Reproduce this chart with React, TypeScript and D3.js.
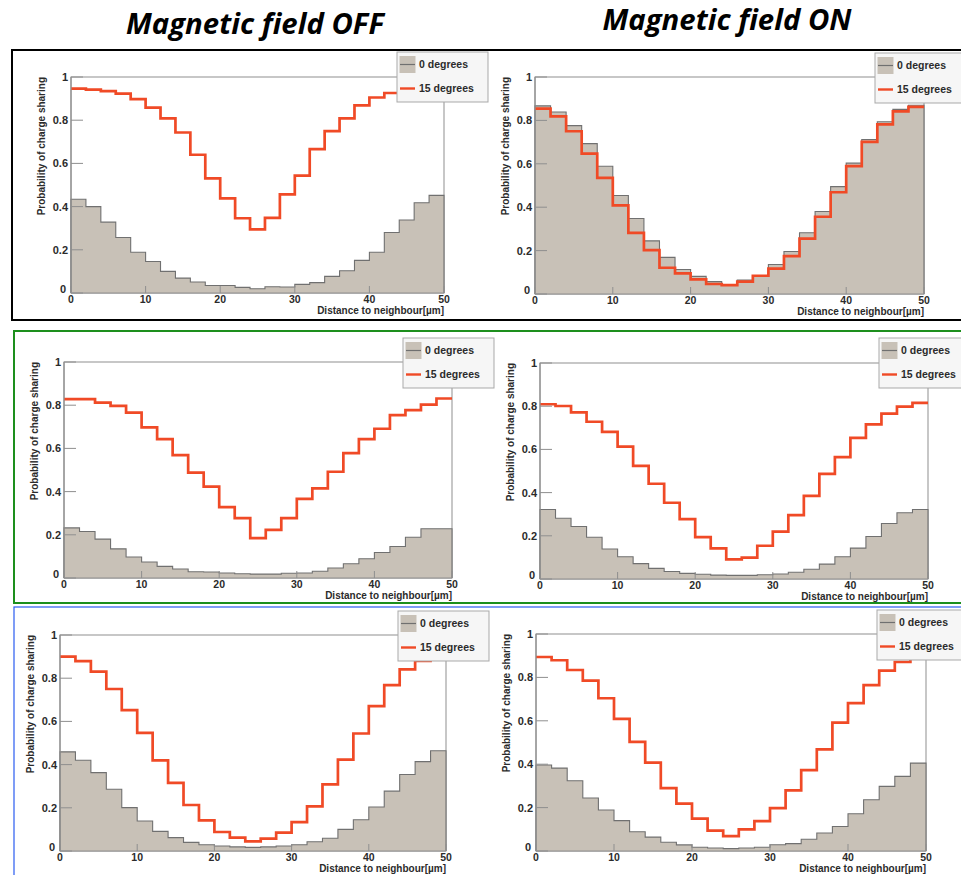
import React from "react";
import * as d3 from "d3";

// Bin edges of the distance histograms (µm) and axis tick values
const binEdges = [0, 2, 4, 6, 8, 10, 12, 14, 16, 18, 20, 22, 24, 26, 28, 30, 32, 34, 36, 38, 40, 42, 44, 46, 48, 50];
const xTicks = [0, 10, 20, 30, 40, 50];
const yTicks = [0, 0.2, 0.4, 0.6, 0.8, 1];
const legendLabels = ["0 degrees", "15 degrees"];
const columnTitles = ["Magnetic field OFF", "Magnetic field ON"];
const xTitle = "Distance to neighbour[\u00b5m]";
const yTitle = "Probability of charge sharing";

// Row 1
const r1Off0 = [0.434, 0.400, 0.328, 0.257, 0.189, 0.146, 0.100, 0.069, 0.051, 0.035, 0.035, 0.026, 0.020, 0.029, 0.028, 0.040, 0.048, 0.077, 0.103, 0.151, 0.189, 0.280, 0.338, 0.418, 0.452];
const r1Off15 = [0.946, 0.942, 0.935, 0.923, 0.898, 0.858, 0.808, 0.743, 0.640, 0.531, 0.438, 0.346, 0.295, 0.348, 0.457, 0.543, 0.666, 0.749, 0.808, 0.869, 0.905, 0.926, 0.938, 0.944, 0.948];
const r1On0 = [0.867, 0.839, 0.776, 0.693, 0.589, 0.454, 0.348, 0.245, 0.169, 0.113, 0.081, 0.057, 0.041, 0.064, 0.084, 0.136, 0.196, 0.282, 0.380, 0.495, 0.603, 0.712, 0.794, 0.851, 0.870];
const r1On15 = [0.854, 0.819, 0.750, 0.647, 0.535, 0.408, 0.282, 0.202, 0.121, 0.095, 0.067, 0.046, 0.041, 0.057, 0.084, 0.117, 0.175, 0.255, 0.356, 0.469, 0.589, 0.701, 0.782, 0.842, 0.862];

// Row 2
const r2Off0 = [0.232, 0.215, 0.180, 0.135, 0.097, 0.074, 0.054, 0.042, 0.029, 0.028, 0.023, 0.020, 0.018, 0.018, 0.022, 0.023, 0.031, 0.046, 0.066, 0.089, 0.118, 0.146, 0.189, 0.228, 0.228];
const r2Off15 = [0.828, 0.828, 0.812, 0.797, 0.766, 0.697, 0.643, 0.569, 0.488, 0.423, 0.328, 0.277, 0.185, 0.223, 0.277, 0.366, 0.415, 0.492, 0.578, 0.643, 0.691, 0.754, 0.777, 0.803, 0.831];
const r2On0 = [0.322, 0.281, 0.243, 0.193, 0.139, 0.103, 0.071, 0.049, 0.035, 0.026, 0.022, 0.018, 0.017, 0.017, 0.020, 0.023, 0.031, 0.045, 0.069, 0.103, 0.143, 0.197, 0.257, 0.307, 0.322];
const r2On15 = [0.809, 0.801, 0.771, 0.728, 0.681, 0.613, 0.524, 0.441, 0.353, 0.277, 0.194, 0.142, 0.091, 0.099, 0.154, 0.219, 0.296, 0.385, 0.487, 0.564, 0.653, 0.716, 0.766, 0.798, 0.815];

// Row 3
const r3Off0 = [0.459, 0.420, 0.363, 0.286, 0.201, 0.139, 0.091, 0.062, 0.040, 0.029, 0.023, 0.019, 0.017, 0.019, 0.023, 0.029, 0.043, 0.059, 0.100, 0.145, 0.204, 0.277, 0.354, 0.414, 0.464];
const r3Off15 = [0.900, 0.879, 0.830, 0.750, 0.652, 0.547, 0.420, 0.315, 0.213, 0.142, 0.088, 0.062, 0.045, 0.057, 0.085, 0.134, 0.207, 0.308, 0.423, 0.544, 0.671, 0.768, 0.841, 0.880, 0.900];
const r3On0 = [0.396, 0.382, 0.324, 0.244, 0.189, 0.140, 0.089, 0.064, 0.040, 0.028, 0.017, 0.014, 0.011, 0.014, 0.017, 0.029, 0.034, 0.054, 0.083, 0.113, 0.172, 0.236, 0.298, 0.344, 0.405];
const r3On15 = [0.894, 0.879, 0.834, 0.785, 0.704, 0.609, 0.503, 0.407, 0.290, 0.218, 0.149, 0.094, 0.069, 0.100, 0.138, 0.198, 0.279, 0.373, 0.468, 0.592, 0.681, 0.764, 0.831, 0.871, 0.892];

const FONT = "'Liberation Sans', Arial, Helvetica, sans-serif";
const TITLE_FONT = "'Open Sans', 'Liberation Sans', sans-serif";
const FILL_GREY = "#c8c1b7";
const LINE_GREY = "#707070";
const RED = "#f04a26";
const FRAME = "#8f8f8f";
const TEXT = "#2b2b2b";

type Pt = [number, number];

interface PanelProps {
  left: number;
  right: number;
  top: number;
  bottom: number;
  legX: number;
  legY: number;
  zero: number[];
  tilted: number[];
}

function stepPoints(vals: number[]): Pt[] {
  const pts: Pt[] = vals.map((v, i) => [binEdges[i], v] as Pt);
  pts.push([binEdges[vals.length], vals[vals.length - 1]]);
  return pts;
}

function Panel({ left, right, top, bottom, legX, legY, zero, tilted }: PanelProps) {
  const x = d3.scaleLinear().domain([0, 50]).range([left, right]);
  const y = d3.scaleLinear().domain([0, 1]).range([bottom, top]);

  const area = d3
    .area<Pt>()
    .x((d) => x(d[0]))
    .y0(y(0))
    .y1((d) => y(d[1]))
    .curve(d3.curveStepAfter);
  const line = d3
    .line<Pt>()
    .x((d) => x(d[0]))
    .y((d) => y(d[1]))
    .curve(d3.curveStepAfter);

  const zeroPts = stepPoints(zero);
  const outline: Pt[] = [[0, 0], ...zeroPts, [50, 0]];
  const fmt = d3.format("~g");

  const legW = 91;
  const legH = 50;

  return (
    <g>
      {/* frame */}
      <rect x={left} y={top} width={right - left} height={bottom - top} fill="#fff" stroke={FRAME} strokeWidth={1} />

      {/* 0 degrees, filled histogram */}
      <path d={area(zeroPts) ?? ""} fill={FILL_GREY} stroke="none" />
      <path d={line(outline) ?? ""} fill="none" stroke={LINE_GREY} strokeWidth={1.1} />

      {/* 15 degrees, line histogram */}
      <path d={line(stepPoints(tilted)) ?? ""} fill="none" stroke={RED} strokeWidth={2.7} strokeLinejoin="miter" />

      {/* axes */}
      <line x1={left} x2={left} y1={top} y2={bottom} stroke={FRAME} strokeWidth={1.2} />
      <line x1={left} x2={right} y1={bottom} y2={bottom} stroke={FRAME} strokeWidth={1.2} />

      {yTicks.map((t) => (
        <g key={"y" + t}>
          <line x1={left} x2={left + 12} y1={y(t)} y2={y(t)} stroke={FRAME} strokeWidth={1} />
          <text
            x={left - (t === 0 ? 5 : 3)}
            y={y(t) + (t === 0 ? 0 : 4)}
            textAnchor="end"
            fontFamily={FONT}
            fontWeight="bold"
            fontSize={11}
            fill={TEXT}
          >
            {fmt(t)}
          </text>
        </g>
      ))}

      {xTicks.map((t) => (
        <g key={"x" + t}>
          <line x1={x(t)} x2={x(t)} y1={bottom} y2={bottom - 7} stroke={FRAME} strokeWidth={1} />
          <text
            x={x(t)}
            y={bottom + 9.5}
            textAnchor="middle"
            fontFamily={FONT}
            fontWeight="bold"
            fontSize={10.5}
            fill={TEXT}
          >
            {fmt(t)}
          </text>
        </g>
      ))}

      <text
        x={right}
        y={bottom + 21}
        textAnchor="end"
        fontFamily={FONT}
        fontWeight="bold"
        fontSize={10}
        fill={TEXT}
      >
        {xTitle}
      </text>

      <text
        transform={`translate(${left - 26},${top}) rotate(-90)`}
        textAnchor="end"
        fontFamily={FONT}
        fontWeight="bold"
        fontSize={10}
        fill={TEXT}
      >
        {yTitle}
      </text>

      {/* legend */}
      <g transform={`translate(${legX},${legY})`}>
        <rect x={0} y={0} width={legW} height={legH} fill="#f6f6f6" stroke="#a9a9a9" strokeWidth={1} />
        <rect x={2.5} y={4} width={16} height={17} fill={FILL_GREY} />
        <line x1={3} x2={18} y1={12.5} y2={12.5} stroke={LINE_GREY} strokeWidth={1.2} />
        <text x={22} y={16} fontFamily={FONT} fontWeight="bold" fontSize={10.5} fill={TEXT}>
          {legendLabels[0]}
        </text>
        <line x1={3} x2={18} y1={36.5} y2={36.5} stroke={RED} strokeWidth={2.4} />
        <text x={22} y={40} fontFamily={FONT} fontWeight="bold" fontSize={10.5} fill={TEXT}>
          {legendLabels[1]}
        </text>
      </g>
    </g>
  );
}

export default function App() {
  return (
    <div style={{ position: "absolute", left: 0, top: 0 }}>
      <svg width={961} height={875} viewBox="0 0 961 875" style={{ display: "block", background: "#fff" }}>
        <rect x={0} y={0} width={961} height={875} fill="#fff" />

        {/* column headings */}
        <text
          x={255}
          y={34}
          textAnchor="middle"
          fontFamily={TITLE_FONT}
          fontWeight="bold"
          fontStyle="italic"
          fontSize={28}
          textLength={258}
          lengthAdjust="spacingAndGlyphs"
          fill="#000"
        >
          {columnTitles[0]}
        </text>
        <text
          x={727}
          y={30}
          textAnchor="middle"
          fontFamily={TITLE_FONT}
          fontWeight="bold"
          fontStyle="italic"
          fontSize={28}
          textLength={249}
          lengthAdjust="spacingAndGlyphs"
          fill="#000"
        >
          {columnTitles[1]}
        </text>

        {/* row 1 */}
        <Panel left={71} right={444} top={77} bottom={293} legX={397} legY={52} zero={r1Off0} tilted={r1Off15} />
        <Panel left={535} right={924} top={77} bottom={294} legX={875} legY={53} zero={r1On0} tilted={r1On15} />

        {/* row 2 */}
        <Panel left={64} right={452} top={362} bottom={578} legX={403} legY={338} zero={r2Off0} tilted={r2Off15} />
        <Panel left={540} right={928} top={363} bottom={579} legX={879} legY={338} zero={r2On0} tilted={r2On15} />

        {/* row 3 */}
        <Panel left={60} right={446} top={635} bottom={851} legX={398} legY={611} zero={r3Off0} tilted={r3Off15} />
        <Panel left={536} right={926} top={634} bottom={851} legX={877} legY={610} zero={r3On0} tilted={r3On15} />

        {/* row frames */}
        <rect x={12} y={50} width={960} height={270} fill="none" stroke="#000" strokeWidth={2} />
        <rect x={14} y={331} width={960} height={272} fill="none" stroke="#1d8f1d" strokeWidth={2} />
        <rect x={14} y={607} width={960} height={300} fill="none" stroke="#2a5cf0" strokeWidth={1.2} />
      </svg>
    </div>
  );
}
